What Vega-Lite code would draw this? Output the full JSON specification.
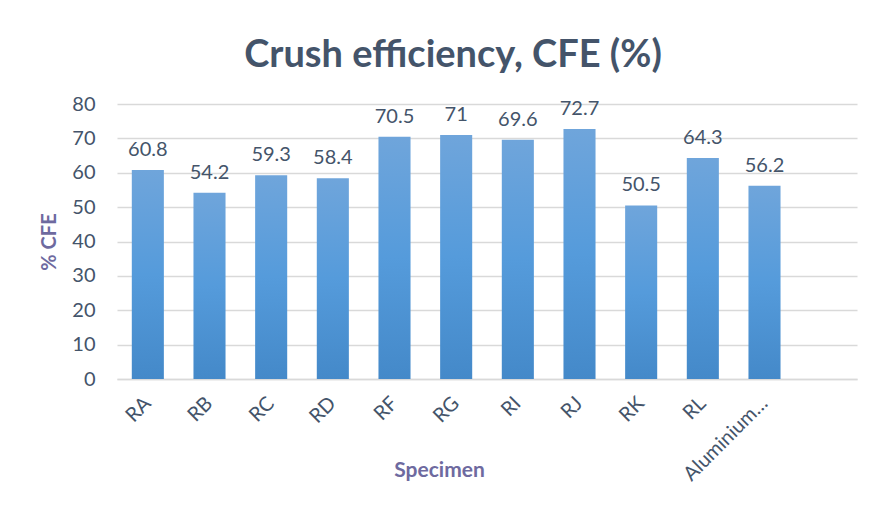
{
  "$schema": "https://vega.github.io/schema/vega-lite/v6.json",
  "width": 740,
  "height": 275,
  "autosize": {"type": "none"},
  "padding": {"left": 117, "top": 104, "right": 33, "bottom": 132},
  "background": "white",
  "config": {
    "font": "Lato",
    "view": {"stroke": null}
  },
  "title": {
    "text": "Crush efficiency, CFE (%)",
    "font": "Lato",
    "fontSize": 38,
    "fontWeight": "bold",
    "color": "#44546A",
    "anchor": "middle",
    "dx": -34,
    "offset": 19
  },
  "data": {
    "values": [
      {"Specimen": "RA", "CFE": 60.8},
      {"Specimen": "RB", "CFE": 54.2},
      {"Specimen": "RC", "CFE": 59.3},
      {"Specimen": "RD", "CFE": 58.4},
      {"Specimen": "RF", "CFE": 70.5},
      {"Specimen": "RG", "CFE": 71},
      {"Specimen": "RI", "CFE": 69.6},
      {"Specimen": "RJ", "CFE": 72.7},
      {"Specimen": "RK", "CFE": 50.5},
      {"Specimen": "RL", "CFE": 64.3},
      {"Specimen": "Aluminium…", "CFE": 56.2}
    ]
  },
  "encoding": {
    "x": {
      "field": "Specimen",
      "type": "nominal",
      "scale": {
        "domain": ["RA", "RB", "RC", "RD", "RF", "RG", "RI", "RJ", "RK", "RL", "Aluminium…", ""],
        "paddingInner": 0.48,
        "paddingOuter": 0.24
      },
      "axis": {
        "title": "Specimen",
        "titleFont": "Lato",
        "titleFontSize": 21,
        "titleFontWeight": "bold",
        "titleColor": "#6E6A9F",
        "titleX": 322,
        "titleY": 80,
        "titleAnchor": "middle",
        "labelAngle": -45,
        "labelFontSize": 20,
        "labelColor": "#44546A",
        "labelPadding": 21,
        "labelAlign": "right",
        "labelBaseline": "middle",
        "ticks": false,
        "domainColor": "#D9D9D9",
        "domainWidth": 1.5
      }
    },
    "y": {
      "field": "CFE",
      "type": "quantitative",
      "scale": {"domain": [0, 80]},
      "axis": {
        "title": "% CFE",
        "titleFont": "Lato",
        "titleFontSize": 20,
        "titleFontWeight": "bold",
        "titleColor": "#6E6A9F",
        "titlePadding": 12,
        "values": [0, 10, 20, 30, 40, 50, 60, 70, 80],
        "labelFontSize": 20,
        "labelColor": "#44546A",
        "labelPadding": 22,
        "ticks": false,
        "domain": false,
        "gridColor": "#D9D9D9",
        "gridWidth": 1.5
      }
    }
  },
  "layer": [
    {
      "mark": {
        "type": "bar",
        "color": {
          "gradient": "linear",
          "x1": 0, "y1": 0, "x2": 0, "y2": 1,
          "stops": [
            {"offset": 0, "color": "#6FA5DB"},
            {"offset": 0.5, "color": "#559BDB"},
            {"offset": 1, "color": "#4489C9"}
          ]
        }
      }
    },
    {
      "mark": {
        "type": "text",
        "baseline": "bottom",
        "dy": -10,
        "fontSize": 20,
        "color": "#44546A",
        "font": "Lato"
      },
      "encoding": {
        "text": {"field": "CFE", "type": "quantitative"}
      }
    }
  ]
}
